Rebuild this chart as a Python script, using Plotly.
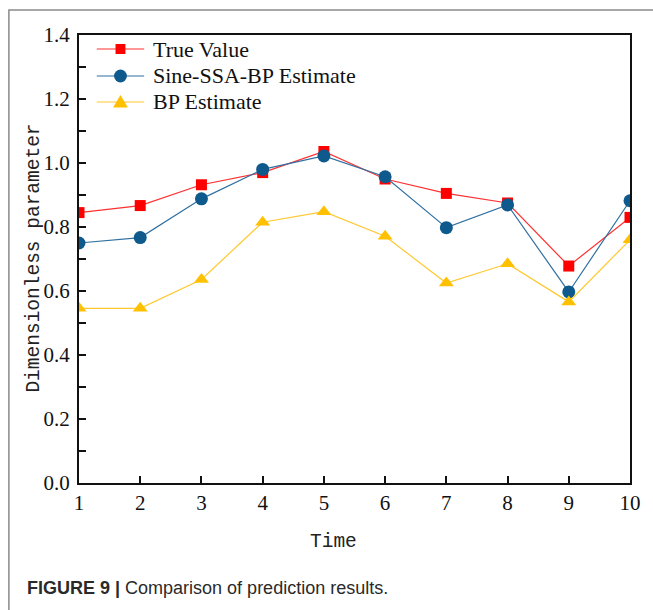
import plotly.graph_objects as go

time = [1, 2, 3, 4, 5, 6, 7, 8, 9, 10]
true_value = [0.845, 0.867, 0.932, 0.970, 1.036, 0.950, 0.905, 0.875, 0.678, 0.830]
sine_ssa_bp = [0.750, 0.767, 0.888, 0.980, 1.022, 0.957, 0.798, 0.869, 0.597, 0.882]
bp_estimate = [0.546, 0.546, 0.636, 0.815, 0.848, 0.771, 0.625, 0.685, 0.566, 0.760]
y_ticks = [0.0, 0.2, 0.4, 0.6, 0.8, 1.0, 1.2, 1.4]
series_names = ["True Value", "Sine-SSA-BP Estimate", "BP Estimate"]

W, H = 653, 610
L, R, T, B = 79, 637, 35, 483

def px(x):
    return (x - L) / (R - L)

def py(y):
    return (B - y) / (B - T)

serif = "Liberation Serif"
mono = "Liberation Mono"

red_line, red_mark = "#FF3030", "#FF0000"
blue_line, blue_mark = "#2F70A0", "#0E5A8C"
yel_line, yel_mark = "#FFC830", "#FFC000"

fig = go.Figure()
fig.add_trace(go.Scatter(x=time, y=true_value, name=series_names[0], mode="lines+markers",
                         line=dict(color=red_line, width=1.2),
                         marker=dict(symbol="square", size=11, color=red_mark)))
fig.add_trace(go.Scatter(x=time, y=sine_ssa_bp, name=series_names[1], mode="lines+markers",
                         line=dict(color=blue_line, width=1.2),
                         marker=dict(symbol="circle", size=13, color=blue_mark)))
fig.add_trace(go.Scatter(x=time, y=bp_estimate, name=series_names[2], mode="lines+markers",
                         line=dict(color=yel_line, width=1.2),
                         marker=dict(symbol="triangle-up", size=13, color=yel_mark)))

# custom legend (layout decoration)
leg_y = [49, 76, 102]
lx0, lx1, lxc, ltext = 97, 145, 121, 152
shapes = [
    dict(type="rect", xref="paper", yref="paper", x0=px(8), y0=py(10), x1=px(670), y1=py(640),
         line=dict(color="#8a8a8a", width=1.5), layer="below"),
]
annotations = []
cols = [(red_line, red_mark), (blue_line, blue_mark), (yel_line, yel_mark)]
for i, (name, (lc, mc)) in enumerate(zip(series_names, cols)):
    yy = leg_y[i]
    shapes.append(dict(type="line", xref="paper", yref="paper", x0=px(lx0), x1=px(lx1),
                       y0=py(yy), y1=py(yy), line=dict(color=lc, width=1.2)))
    if i == 0:
        shapes.append(dict(type="rect", xref="paper", yref="paper", x0=px(lxc - 5), x1=px(lxc + 5),
                           y0=py(yy - 5), y1=py(yy + 5), fillcolor=mc, line=dict(width=0)))
    elif i == 1:
        shapes.append(dict(type="circle", xref="paper", yref="paper", x0=px(lxc - 6.5), x1=px(lxc + 6.5),
                           y0=py(yy - 6.5), y1=py(yy + 6.5), fillcolor=mc, line=dict(width=0)))
    else:
        path = "M {:.5f} {:.5f} L {:.5f} {:.5f} L {:.5f} {:.5f} Z".format(
            px(lxc - 7.5), py(yy + 5.5), px(lxc + 7.5), py(yy + 5.5), px(lxc), py(yy - 7))
        shapes.append(dict(type="path", xref="paper", yref="paper", path=path,
                           fillcolor=mc, line=dict(width=0)))
    annotations.append(dict(text=name, x=px(ltext), y=py(yy), xref="paper", yref="paper",
                            xanchor="left", yanchor="middle", showarrow=False,
                            font=dict(family=serif, size=22, color="#111")))

annotations += [
    dict(text="Dimensionless parameter", x=px(33), y=py(258), xref="paper", yref="paper",
         xanchor="center", yanchor="middle",
         showarrow=False, textangle=-90, font=dict(family=mono, size=19.5, color="#222")),
    dict(text="Time", x=px(337), y=py(542), xref="paper", yref="paper",
         xanchor="center", yanchor="middle",
         showarrow=False, font=dict(family=mono, size=19.5, color="#222")),
    dict(text="<b>FIGURE 9 |</b> Comparison of prediction results.", x=px(24), y=py(588),
         xref="paper", yref="paper", xanchor="left", yanchor="middle", showarrow=False,
         font=dict(family="Liberation Sans", size=18, color="#2a2a2a")),
]

fig.update_layout(
    width=W, height=H,
    margin=dict(l=L, r=W - R, t=T, b=H - B),
    paper_bgcolor="white", plot_bgcolor="white",
    showlegend=False,
    xaxis=dict(range=[1, 10], tickvals=time, ticks="inside", ticklen=7, tickwidth=1.5,
               tickcolor="#111", showline=True, linecolor="#111", linewidth=2, mirror=True,
               showgrid=False, zeroline=False,
               tickfont=dict(family=serif, size=21, color="#111")),
    yaxis=dict(range=[0, 1.4], tickvals=y_ticks, tickformat=".1f", ticks="inside", ticklen=7,
               tickwidth=1.5, tickcolor="#111", showline=True, linecolor="#111", linewidth=2,
               mirror=True, showgrid=False, zeroline=False, ticklabelstandoff=3,
               minor=dict(dtick=0.1, ticks="inside", ticklen=7, tickwidth=1.5, tickcolor="#111"),
               tickfont=dict(family=serif, size=21, color="#111")),
    annotations=annotations,
    shapes=shapes,
)

fig.write_html("out.html")
